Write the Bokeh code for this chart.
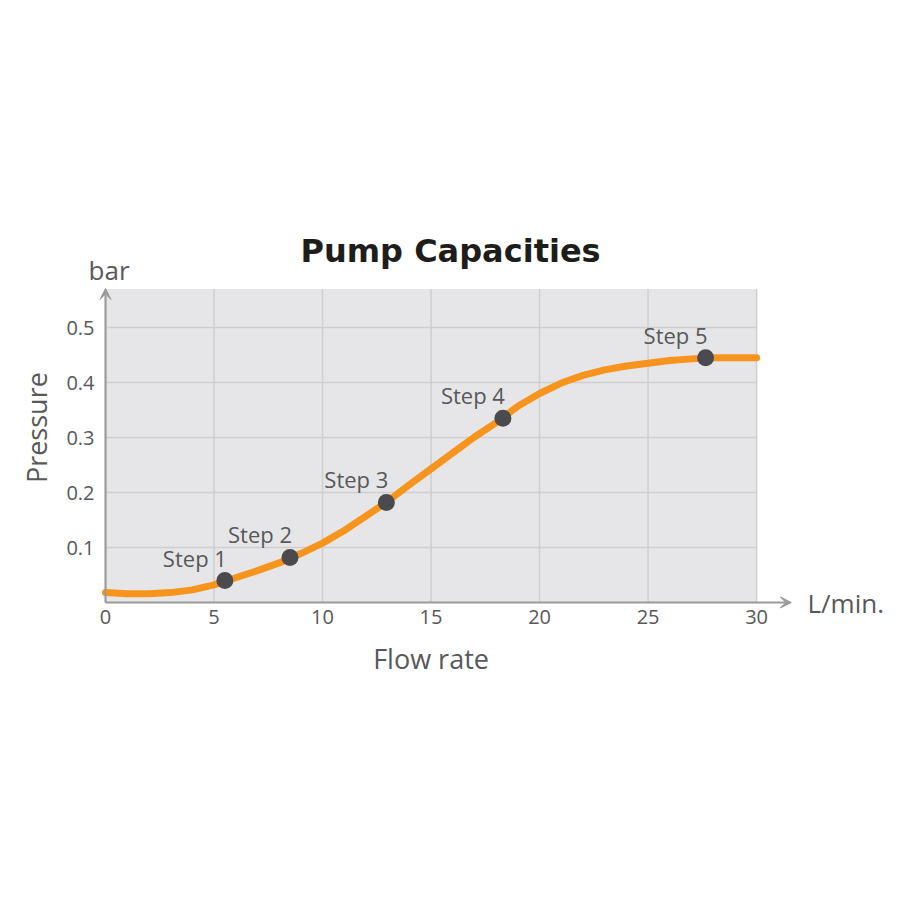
from bokeh.plotting import figure
from bokeh.models import (Range1d, FixedTicker, LinearAxis, Arrow, VeeHead,
                          ColumnDataSource, BoxAnnotation)
from bokeh.core.properties import value
from bokeh.embed import file_html
from bokeh.resources import INLINE

# curve (flow rate in L/min., pressure in bar)
flow = [0, 1, 2, 3, 4, 5, 6, 7, 8, 9, 10, 11, 12, 13, 14, 15,
        16, 17, 18, 19, 20, 21, 22, 23, 24, 25, 26, 27, 28, 29, 30]
pressure = [0.018, 0.016, 0.016, 0.018, 0.023, 0.032, 0.045, 0.058, 0.072, 0.089,
            0.108, 0.131, 0.157, 0.184, 0.214, 0.243, 0.272, 0.301, 0.327, 0.357,
            0.380, 0.399, 0.413, 0.423, 0.430, 0.435, 0.440, 0.443, 0.445, 0.445, 0.445]

# marked steps
step_names = ["Step 1", "Step 2", "Step 3", "Step 4", "Step 5"]
step_flow = [5.5, 8.5, 12.94, 18.31, 27.65]
step_pressure = [0.040, 0.082, 0.182, 0.335, 0.445]

x_ticks = [0, 5, 10, 15, 20, 25, 30]
y_ticks = [0.1, 0.2, 0.3, 0.4, 0.5]
x_max = 30
y_max = 0.57

FONT = "Open Sans"
TXT = "#58585a"
AXIS_GREY = "#9a9a9c"
GRID = "#cfcfd2"


def label_axis(tick, text, size, standoff, **kw):
    # an axis with a single labelled tick, used for axis titles and units
    return LinearAxis(ticker=FixedTicker(ticks=[tick]), major_label_overrides={tick: text},
                      axis_line_color=None, major_tick_line_color=None,
                      minor_tick_line_color=None, major_tick_out=0, major_tick_in=0,
                      major_label_standoff=standoff, major_label_text_font=FONT,
                      major_label_text_font_size=size, major_label_text_color=TXT, **kw)


# frame is larger than the grey plot box so the axis arrows and texts are not clipped
p = figure(width=892, height=892,
           x_range=Range1d(-0.876, 31.7), y_range=Range1d(-0.0127, 0.6855),
           output_backend="svg", toolbar_location=None,
           min_border_left=86, min_border_right=99, min_border_top=225, min_border_bottom=283)
p.background_fill_color = "white"
p.border_fill_color = "white"
p.outline_line_color = None
p.xgrid.visible = False
p.ygrid.visible = False

p.add_layout(BoxAnnotation(left=0, right=x_max, bottom=0, top=y_max, level="underlay",
                           fill_color="#e6e6e8", fill_alpha=1, line_color=None))
p.segment(x0=x_ticks, y0=[0] * len(x_ticks), x1=x_ticks, y1=[y_max] * len(x_ticks),
          line_color=GRID, line_width=1.5)
p.segment(x0=[0] * len(y_ticks), y0=y_ticks, x1=[x_max] * len(y_ticks), y1=y_ticks,
          line_color=GRID, line_width=1.5)

for ax in (p.xaxis, p.yaxis):
    ax.axis_line_color = None
    ax.major_tick_line_color = None
    ax.minor_tick_line_color = None
    ax.major_tick_out = 0
    ax.major_tick_in = 0
    ax.major_label_text_font = FONT
    ax.major_label_text_font_size = "20px"
    ax.major_label_text_color = TXT
p.xaxis.ticker = FixedTicker(ticks=x_ticks)
p.yaxis.ticker = FixedTicker(ticks=y_ticks)
p.xaxis.major_label_standoff = 0
p.yaxis.major_label_standoff = -8

p.add_layout(label_axis(15, "Flow rate", "27px", 13), "below")
p.add_layout(label_axis(0.318, "Pressure", "27px", 8, major_label_orientation="parallel"), "left")
p.add_layout(label_axis(0, "L/min.", "26px", 14), "right")

# axis arrows
p.add_layout(Arrow(x_start=0, y_start=0, x_end=31.6, y_end=0,
                   line_color=AXIS_GREY, line_width=2,
                   end=VeeHead(size=11, line_color=AXIS_GREY, fill_color=AXIS_GREY)))
p.add_layout(Arrow(x_start=0, y_start=0, x_end=0, y_end=0.571,
                   line_color=AXIS_GREY, line_width=2,
                   end=VeeHead(size=11, line_color=AXIS_GREY, fill_color=AXIS_GREY)))

p.line(flow, pressure, line_color="#f7941d", line_width=7, line_join="round", line_cap="round")

steps = ColumnDataSource(data=dict(x=step_flow, y=step_pressure, name=step_names))
p.scatter("x", "y", source=steps, size=17, fill_color="#4b4b4f", line_color=None)
p.text("x", "y", text="name", source=steps, x_offset=-30, y_offset=-23,
       text_align="center", text_baseline="alphabetic", text_font=value(FONT),
       text_font_size="22px", text_color=TXT)

# title and y unit
p.text(x=[15.9], y=[0.64], text=["Pump Capacities"], text_align="center",
       text_baseline="alphabetic", text_font=value("DejaVu Sans"), text_font_style="bold",
       text_font_size="32px", text_color="#1d1d1b")
p.text(x=[-0.78], y=[0.605], text=["bar"], text_align="left",
       text_baseline="alphabetic", text_font=value(FONT),
       text_font_size="26px", text_color=TXT)

open("out.html", "w").write(file_html(p, INLINE))
